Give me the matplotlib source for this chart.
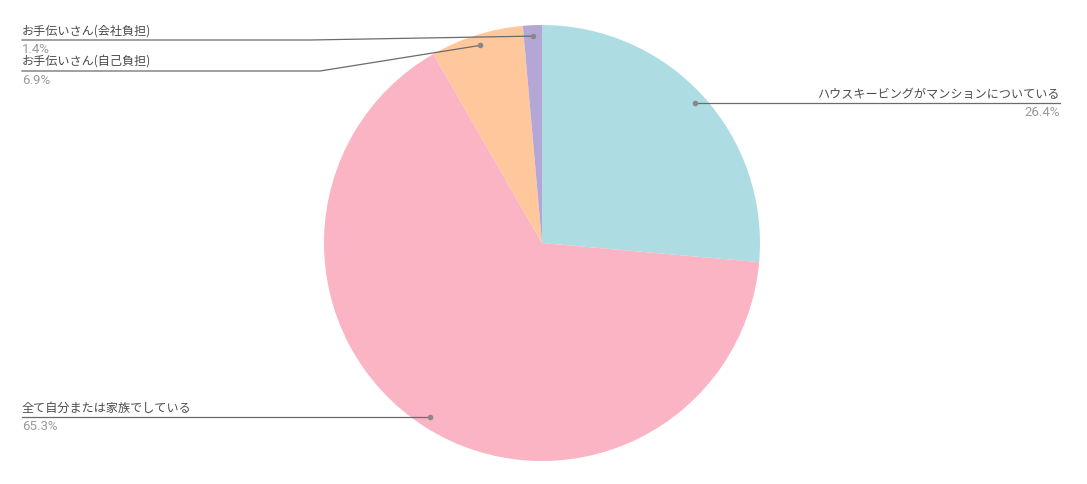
import numpy as np
import matplotlib.pyplot as plt

plt.rcParams['font.family'] = ['Noto Sans CJK JP', 'DejaVu Sans']

# データ
labels = ['ハウスキービングがマンションについている', '全て自分または家族でしている',
          'お手伝いさん(自己負担)', 'お手伝いさん(会社負担)']
values = [26.4, 65.3, 6.9, 1.4]
colors = ['#addde2', '#fbb4c4', '#ffc89c', '#b5a7d5']

W, H = 1087, 484
fig = plt.figure(figsize=(W / 100, H / 100), dpi=100)
ax = fig.add_axes([0, 0, 1, 1])

cx, cy, R = 542, H - 243, 218
wedges, _ = ax.pie(values, colors=colors, startangle=90, counterclock=False,
                   center=(cx, cy), radius=R,
                   wedgeprops=dict(linewidth=0))

# ラベル配置 (x端, 水平線のy, 左右)
label_pos = [(1060, 103, 'right'), (22, 417, 'left'), (22, 71, 'left'), (22, 40, 'left')]
bend_x = [None, None, 320, 310]

for i, w in enumerate(wedges):
    ang = np.deg2rad((w.theta1 + w.theta2) / 2)
    px = cx + 0.95 * R * np.cos(ang)
    py = cy + 0.95 * R * np.sin(ang)
    ex, ly, side = label_pos[i]
    ly = H - ly
    if bend_x[i] is None:
        py = ly
        xs, ys = [px, ex], [ly, ly]
    else:
        xs, ys = [px, bend_x[i], ex], [py, ly, ly]
    ax.plot(xs, ys, color='#6b6b6b', lw=0.9, zorder=3)
    ax.plot(px, py, 'o', ms=3, color='#888888', zorder=4)
    ax.text(ex, ly + 2, labels[i], ha=side, va='bottom', fontsize=8.7,
            color='#4a4a4a')
    ax.text(ex, ly - 3, f'{values[i]}%', ha=side, va='top', fontsize=9.5,
            color='#9a9a9a', family=['Roboto', 'DejaVu Sans'])

ax.set_xlim(0, W)
ax.set_ylim(0, H)
ax.set_aspect('equal')
ax.axis('off')

fig.savefig('out.png', dpi=100, facecolor='white')
